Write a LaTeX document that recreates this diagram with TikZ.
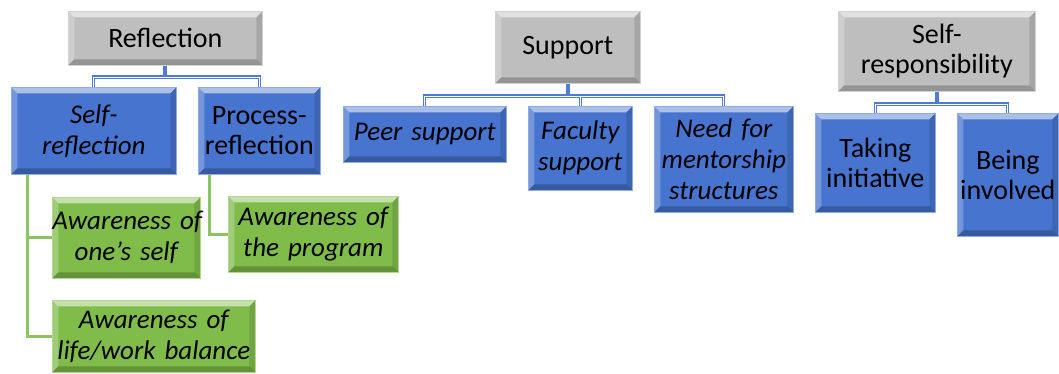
\documentclass[tikz,border=0pt]{standalone}
\usepackage{fontspec}
\setmainfont{Carlito}
\definecolor{boxgray}{RGB}{190,190,190}
\definecolor{boxblue}{RGB}{70,116,206}
\definecolor{boxgreen}{RGB}{128,188,74}
\definecolor{lineblue}{RGB}{78,124,210}
\definecolor{linegreen}{RGB}{140,196,96}
\newcommand\itf{\fontsize{27}{31}\selectfont\itshape}
\tikzset{
  bevel/.style={path picture={
    \fill[white,opacity=.55] (path picture bounding box.north west) -- (path picture bounding box.north east)
      -- ([shift={(-6pt,-6pt)}]path picture bounding box.north east) -- ([shift={(6pt,-6pt)}]path picture bounding box.north west) -- cycle;
    \fill[white,opacity=.25] (path picture bounding box.north west) -- (path picture bounding box.south west)
      -- ([shift={(6pt,6pt)}]path picture bounding box.south west) -- ([shift={(6pt,-6pt)}]path picture bounding box.north west) -- cycle;
    \fill[black,opacity=.22] (path picture bounding box.south west) -- (path picture bounding box.south east)
      -- ([shift={(-6pt,6pt)}]path picture bounding box.south east) -- ([shift={(6pt,6pt)}]path picture bounding box.south west) -- cycle;
    \fill[black,opacity=.12] (path picture bounding box.north east) -- (path picture bounding box.south east)
      -- ([shift={(-6pt,6pt)}]path picture bounding box.south east) -- ([shift={(-6pt,-6pt)}]path picture bounding box.north east) -- cycle;
  }},
  box/.style={rectangle, anchor=north west, inner xsep=0pt, inner ysep=0pt, align=center,
    font=\fontsize{28}{30}\selectfont, text=black, bevel},
  gbox/.style={box, fill=boxgray, draw=boxgray!70!white, line width=0.6pt},
  bbox/.style={box, fill=boxblue, draw=boxblue!60!white, line width=0.6pt},
  grbox/.style={box, fill=boxgreen, draw=boxgreen!60!white, line width=0.6pt},
  ibox/.style={font=\itf},
  stub/.style={draw=lineblue, line width=4pt},
  connout/.style={draw=lineblue, line width=3.2pt},
  connin/.style={draw=white, line width=1.2pt},
  gconn/.style={draw=linegreen, line width=3pt},
}
\begin{document}
\begin{tikzpicture}[x=1pt,y=-1pt]
\useasboundingbox (0,0) rectangle (1059,374);
% Reflection
\node[gbox, text width=194pt, minimum height=54pt] (ref) at (68,11) {Reflection};
\node[bbox, ibox, text width=165pt, minimum height=87pt] (selfr) at (11,87) {Self-\\reflection};
\node[bbox, text width=122pt, minimum height=87pt] (procr) at (198,87) {Process-\\reflection};
\node[grbox, ibox, text width=148pt, minimum height=81pt] (aws) at (52,197) {\mbox{Awareness of}\\\mbox{one’s self}};
\node[grbox, ibox, text width=170pt, minimum height=76pt] (awp) at (228,196) {\mbox{Awareness of}\\\mbox{the program}};
\node[grbox, ibox, text width=203pt, minimum height=72pt] (awl) at (52,300) {\mbox{Awareness of}\\\mbox{life/work balance}};
% Support
\node[gbox, text width=145pt, minimum height=72pt] (sup) at (495,11) {Support};
\node[bbox, ibox, text width=163pt, minimum height=56pt] (peer) at (343,106) {\mbox{Peer support}};
\node[bbox, ibox, text width=104pt, minimum height=84pt] (fac) at (528,106) {Faculty\\support};
\node[bbox, ibox, text width=139pt, minimum height=106pt] (need) at (654,106) {\mbox{Need for}\\mentorship\\structures};
% Self-responsibility
\node[gbox, text width=197pt, minimum height=80pt] (sresp) at (838,11) {Self-\\responsibility};
\node[bbox, text width=120pt, minimum height=99pt] (take) at (815,113) {Taking\\initiative};
\node[bbox, text width=101pt, minimum height=123pt] (being) at (957,113) {Being\\involved};
% blue connectors
\draw[stub] (ref.south) -- ++(0,12);
\draw[stub] (sup.south) -- ++(0,13);
\draw[stub] (sresp.south) -- ++(0,13);
\draw[connout] (selfr.north) -- ++(0,-10) -| (procr.north);
\draw[connout] (peer.north) -- ++(0,-10) -| (need.north);
\draw[connout] (fac.north) -- ++(0,-10);
\draw[connout] (take.north) -- ++(0,-9) -| (being.north);
\draw[connin] ([yshift=-0.5pt]selfr.north) -- ++(0,-10) -| ([yshift=-0.5pt]procr.north);
\draw[connin] ([yshift=-0.5pt]peer.north) -- ++(0,-10) -| ([yshift=-0.5pt]need.north);
\draw[connin] ([yshift=-0.5pt]fac.north) -- ++(0,-10);
\draw[connin] ([yshift=-0.5pt]take.north) -- ++(0,-9) -| ([yshift=-0.5pt]being.north);
% green connectors
\draw[gconn] ([xshift=16pt]selfr.south west) |- (aws.west);
\draw[gconn] ([xshift=16pt]selfr.south west) |- (awl.west);
\draw[gconn] ([xshift=11pt]procr.south west) |- (awp.west);
\end{tikzpicture}
\end{document}
